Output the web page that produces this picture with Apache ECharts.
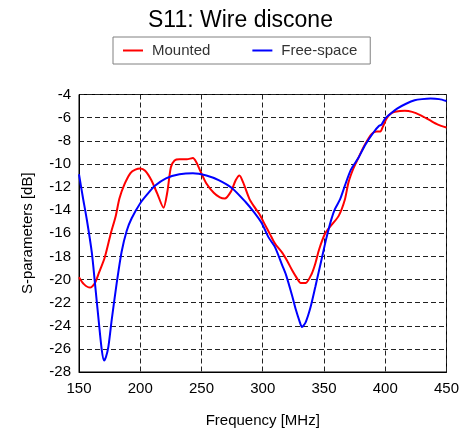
<!DOCTYPE html>
<html>
<head>
<meta charset="utf-8">
<script src="https://cdn.jsdelivr.net/npm/echarts@6/dist/echarts.min.js"></script>
<style>
  html, body { margin: 0; padding: 0; background: #fff; }
  #chart { width: 462px; height: 435px; }
</style>
</head>
<body>
<div id="chart"></div>
<script>
var chart = echarts.init(document.getElementById('chart'));

var FONT = 'Liberation Sans, Arial, sans-serif';

// Mounted (red)
var freqMounted = [150, 154, 159, 163, 166, 171, 176, 180, 183, 187, 192, 196, 200, 204, 209, 214, 219, 222, 225, 228, 232, 238, 243, 246, 249, 254, 260, 265, 269, 274, 278, 281, 284, 289, 293, 297, 302, 306, 310, 316, 320, 324, 328, 331, 335, 340, 343, 346, 351, 356, 362, 367, 370, 374, 378, 383, 389, 393, 396, 398, 401, 404, 408, 416, 422, 429, 436, 443, 450];
var dbMounted = [-19.8, -20.4, -20.7, -20.3, -19.5, -18.1, -16.0, -14.5, -13.0, -11.8, -10.8, -10.5, -10.4, -10.6, -11.4, -12.6, -13.8, -12.5, -10.3, -9.7, -9.6, -9.6, -9.5, -9.9, -10.6, -11.7, -12.5, -12.9, -13.0, -12.4, -11.4, -11.0, -11.6, -13.0, -13.7, -14.3, -15.3, -16.1, -16.9, -17.7, -18.4, -19.2, -19.9, -20.3, -20.3, -19.5, -18.6, -17.4, -16.0, -15.3, -14.5, -13.1, -11.6, -10.4, -9.5, -8.4, -7.4, -7.2, -7.2, -6.8, -6.1, -5.7, -5.5, -5.4, -5.5, -5.8, -6.2, -6.6, -6.85];

// Free-space (blue)
var freqFree = [150, 153, 156.5, 160.5, 163, 166, 168.6, 170.5, 172, 174, 176.7, 180.8, 184.8, 188.9, 193, 200, 206, 212, 221, 232, 243, 254, 264, 275, 286, 293, 299, 305, 310, 316, 319, 324, 327, 330, 332, 335, 339, 343, 346, 349, 352, 356, 359, 363, 367, 372, 378, 384, 391, 395, 397, 400, 405, 410, 417, 424, 430, 437, 444, 450];
var dbFree = [-10.9, -12.8, -14.9, -17.7, -20.3, -23.5, -26.1, -27.0, -26.7, -25.8, -23.5, -20.3, -17.6, -15.8, -14.7, -13.4, -12.6, -11.9, -11.25, -10.9, -10.8, -11.0, -11.4, -12.1, -13.3, -14.2, -15.1, -16.4, -17.2, -18.8, -19.6, -21.4, -22.6, -23.6, -24.1, -23.7, -22.4, -20.6, -19.2, -17.8, -16.4, -14.8, -13.9, -13.1, -11.9, -10.5, -9.5, -8.3, -7.2, -6.7, -6.6, -6.06, -5.6, -5.2, -4.8, -4.5, -4.4, -4.35, -4.4, -4.56];

function pairs(xs, ys) {
  var out = [];
  for (var i = 0; i < xs.length; i++) {
    out.push([xs[i], ys[i]]);
  }
  return out;
}

var option = {
  backgroundColor: '#fff',
  animation: false,
  title: {
    text: 'S11: Wire discone',
    left: 143,
    top: 4,
    textStyle: { fontFamily: FONT, fontSize: 23, fontWeight: 'normal', color: '#000' }
  },
  legend: {
    left: 113,
    top: 37,
    padding: [6, 13, 6, 10],
    itemGap: 42,
    itemWidth: 20,
    itemHeight: 2,
    icon: 'rect',
    borderColor: '#808080',
    borderWidth: 1,
    textStyle: { fontFamily: FONT, fontSize: 15, color: '#333', padding: [0, 0, 0, 4] },
    data: ['Mounted', 'Free-space']
  },
  grid: {
    left: 79,
    right: 13,
    top: 94.5,
    bottom: 63,
    show: true,
    borderColor: '#000',
    borderWidth: 1
  },
  xAxis: {
    type: 'value',
    min: 150,
    max: 450,
    interval: 50,
    name: 'Frequency [MHz]',
    nameLocation: 'middle',
    nameGap: 41,
    nameTextStyle: { fontFamily: FONT, fontSize: 15, color: '#000' },
    axisLine: { show: true, lineStyle: { color: '#000' } },
    axisTick: { show: false },
    axisLabel: { fontFamily: FONT, fontSize: 15, color: '#000', margin: 9 },
    splitLine: { show: true, lineStyle: { color: '#222', type: [5, 3], width: 1 } }
  },
  yAxis: {
    type: 'value',
    min: -28,
    max: -4,
    interval: 2,
    name: 'S-parameters [dB]',
    nameLocation: 'middle',
    nameGap: 44,
    nameTextStyle: { fontFamily: FONT, fontSize: 15, color: '#000' },
    axisLine: { show: true, lineStyle: { color: '#000' } },
    axisTick: { show: false },
    axisLabel: { fontFamily: FONT, fontSize: 15, color: '#000', margin: 8 },
    splitLine: { show: true, lineStyle: { color: '#222', type: [5, 3], width: 1 } }
  },
  series: [
    {
      name: 'Mounted',
      type: 'line',
      data: pairs(freqMounted, dbMounted),
      showSymbol: false,
      symbol: 'none',
      smooth: 0.25,
      lineStyle: { color: '#ff0000', width: 2 },
      itemStyle: { color: '#ff0000' }
    },
    {
      name: 'Free-space',
      type: 'line',
      data: pairs(freqFree, dbFree),
      showSymbol: false,
      symbol: 'none',
      smooth: 0.25,
      lineStyle: { color: '#0000ff', width: 2 },
      itemStyle: { color: '#0000ff' }
    }
  ]
};

chart.setOption(option);
</script>
</body>
</html>
